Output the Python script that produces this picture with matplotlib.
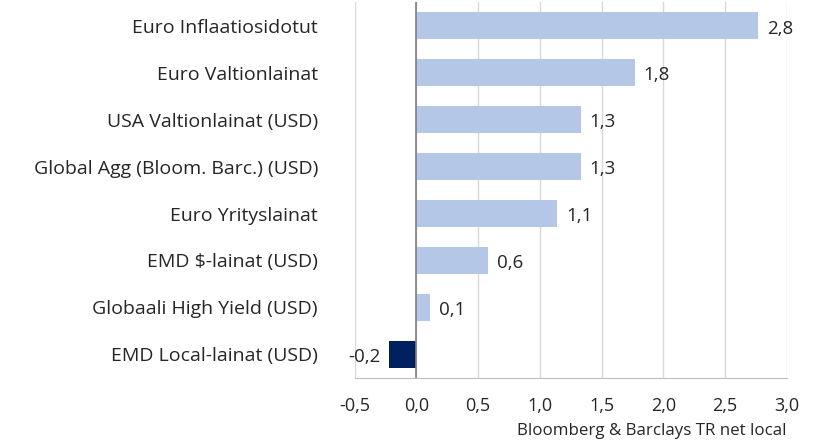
import matplotlib.pyplot as plt
import numpy as np

categories = ['Euro Inflaatiosidotut', 'Euro Valtionlainat', 'USA Valtionlainat (USD)',
              'Global Agg (Bloom. Barc.) (USD)', 'Euro Yrityslainat', 'EMD $-lainat (USD)',
              'Globaali High Yield (USD)', 'EMD Local-lainat (USD)']
values = [2.77, 1.77, 1.33, 1.33, 1.14, 0.58, 0.11, -0.22]
labels = ['2,8', '1,8', '1,3', '1,3', '1,1', '0,6', '0,1', '-0,2']
ticks = [-0.5, 0.0, 0.5, 1.0, 1.5, 2.0, 2.5, 3.0]

plt.rcParams['font.family'] = ['Open Sans', 'DejaVu Sans']

fig = plt.figure(figsize=(8.23, 4.43), dpi=100)
ax = fig.add_axes([0.431, 0.147, 0.525, 0.848])

y = np.arange(len(categories))
colors = ['#002060' if v < 0 else '#b4c7e7' for v in values]
ax.barh(y, values, height=0.58, color=colors, zorder=3)

# value labels next to bar ends
for yi, v, lab in zip(y, values, labels):
    if v >= 0:
        ax.text(v + 0.07, yi + 0.06, lab, va='center', ha='left', fontsize=13.5, color='#262626')
    else:
        ax.text(v - 0.07, yi + 0.06, lab, va='center', ha='right', fontsize=13.5, color='#262626')

ax.set_ylim(len(categories) - 0.5, -0.5)
ax.set_xlim(-0.5, 3.0)
ax.set_xticks(ticks)
ax.set_xticklabels([f'{t:.1f}'.replace('.', ',') for t in ticks], fontsize=13, color='#262626')
ax.set_yticks(y)
ax.set_yticklabels(categories, fontsize=14, color='#262626')
ax.tick_params(axis='y', length=0, pad=26.5)
ax.tick_params(axis='x', length=0, pad=14)

ax.grid(axis='x', color='#d9d9d9', linewidth=1, zorder=0)
ax.axvline(0, color='#808080', linewidth=1.2, zorder=4)
for s in ['top', 'right', 'left']:
    ax.spines[s].set_visible(False)
ax.spines['bottom'].set_color('#bfbfbf')

fig.text(0.956, 0.008, 'Bloomberg & Barclays TR net local', ha='right', va='bottom',
         fontsize=12.2, color='#262626')

fig.savefig('out.png', dpi=100)
